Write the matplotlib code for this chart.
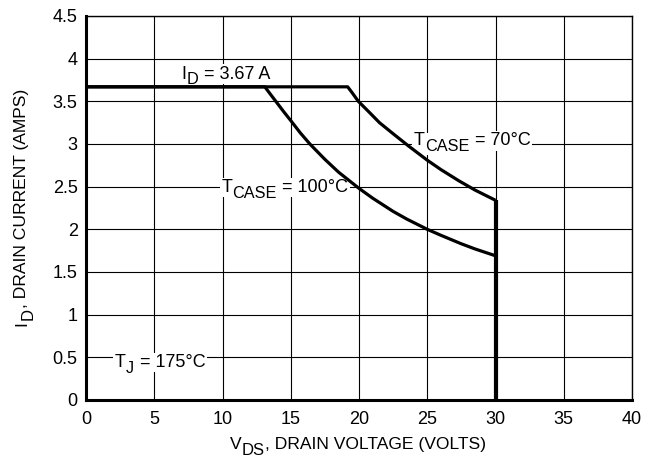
import matplotlib
matplotlib.use("Agg")
import matplotlib.pyplot as plt

plt.rcParams['font.family'] = ['Liberation Sans', 'DejaVu Sans']

# data
vds_100 = [0, 13.1, 13.5, 14.0, 14.5, 15.07, 15.7, 16.4, 17.5, 18.5, 20, 21, 22.5, 23.5, 25, 26, 27.5, 28.5, 30]
id_100 = [3.67, 3.67, 3.585, 3.48, 3.375, 3.26, 3.13, 3.0, 2.82, 2.67, 2.48, 2.365, 2.21, 2.12, 2.0, 1.93, 1.83, 1.77, 1.69]

vds_70 = [0, 19.17, 19.5, 19.95, 20.7, 21.5, 22.5, 23.6, 25, 26, 27.3, 28.5, 30]
id_70 = [3.67, 3.67, 3.6, 3.5, 3.38, 3.25, 3.12, 2.98, 2.81, 2.70, 2.57, 2.46, 2.34]

vds_max = [30, 30]
id_vmax = [2.34, 0]

x_ticks = [0, 5, 10, 15, 20, 25, 30, 35, 40]
y_ticks = [0, 0.5, 1, 1.5, 2, 2.5, 3, 3.5, 4, 4.5]
y_labels = ['0', '0.5', '1', '1.5', '2', '2.5', '3', '3.5', '4', '4.5']

fig = plt.figure(figsize=(6.57, 4.65), dpi=100)
ax = fig.add_axes([0.1309, 0.1398, 0.8311, 0.8258])

ax.set_xlim(0, 40)
ax.set_ylim(0, 4.5)
ax.set_xticks(x_ticks)
ax.set_yticks(y_ticks)
ax.set_yticklabels(y_labels)
ax.tick_params(length=0, labelsize=13)
ax.tick_params(axis='x', pad=8)
ax.tick_params(axis='y', pad=6)
ax.grid(True, color='black', linewidth=0.8, zorder=0.5)
ax.set_axisbelow(True)

for s in ['top', 'right']:
    ax.spines[s].set_linewidth(1.0)
for s in ['left', 'bottom']:
    ax.spines[s].set_linewidth(2.2)

ax.plot(vds_100, id_100, color='black', linewidth=2.3, solid_capstyle='butt', solid_joinstyle='round', zorder=3)
ax.plot(vds_70, id_70, color='black', linewidth=2.3, solid_capstyle='butt', solid_joinstyle='round', zorder=3)
ax.plot(vds_max, id_vmax, color='black', linewidth=3.0, solid_capstyle='butt', zorder=3)

box = dict(facecolor='white', edgecolor='none', pad=1.0)


def chain(x, y, main, sub, rest, size, drop, ratio, color, bbox, z):
    t1 = ax.text(x, y, main, fontsize=size, ha='left', va='bottom', color=color, bbox=bbox, zorder=z)
    t2 = ax.annotate(sub, xy=(1, 0), xycoords=t1, xytext=(0.3, -drop), textcoords='offset points',
                     fontsize=size * ratio, ha='left', va='bottom', color=color, bbox=bbox, zorder=z)
    ax.annotate(rest, xy=(1, 0), xycoords=(t2, t1), xytext=(0.3, 0), textcoords='offset points',
                fontsize=size, ha='left', va='bottom', color=color, bbox=bbox, zorder=z)


# text with a large subscript: white boxes first, then the glyphs on top
def sub_text(x, y, main, sub, rest, size=13, drop=3.5, ratio=0.9):
    chain(x, y, main, sub, rest, size, drop, ratio, 'none', box, 1.5)
    chain(x, y, main, sub, rest, size, 0, ratio, 'none', box, 1.5)
    chain(x, y, main, sub, rest, size, drop, ratio, 'black', None, 2)


sub_text(7.0, 3.72, 'I', 'D', ' = 3.67 A')
sub_text(9.9, 2.39, 'T', 'CASE', ' = 100°C')
sub_text(24.0, 2.94, 'T', 'CASE', ' = 70°C')
sub_text(2.1, 0.34, 'T', 'J', ' = 175°C')

# axis titles
fs = 12.6
v1 = fig.text(230 / 657, 0.028, 'V', fontsize=fs, ha='left', va='bottom')
v2 = ax.annotate('DS', xy=(1, 0), xycoords=v1, xytext=(0.3, -4.5), textcoords='offset points',
                 fontsize=fs * 0.95, ha='left', va='bottom', annotation_clip=False)
ax.annotate(', DRAIN VOLTAGE (VOLTS)', xy=(1, 0), xycoords=(v2, v1), xytext=(0.3, 0),
            textcoords='offset points', fontsize=fs, ha='left', va='bottom', annotation_clip=False)

i1 = fig.text(14 / 657, 0.30, 'I', fontsize=fs, rotation=90, ha='left', va='bottom')
i2 = ax.annotate('D', xy=(1, 1), xycoords=i1, xytext=(4.5, 0.3), textcoords='offset points',
                 fontsize=fs * 0.95, rotation=90, ha='right', va='bottom', annotation_clip=False)
ax.annotate(', DRAIN CURRENT (AMPS)', xy=(1, 1), xycoords=(i1, i2), xytext=(0, 0.3),
            textcoords='offset points', fontsize=fs, rotation=90, ha='right', va='bottom',
            annotation_clip=False)

fig.savefig('out.png', dpi=100)
